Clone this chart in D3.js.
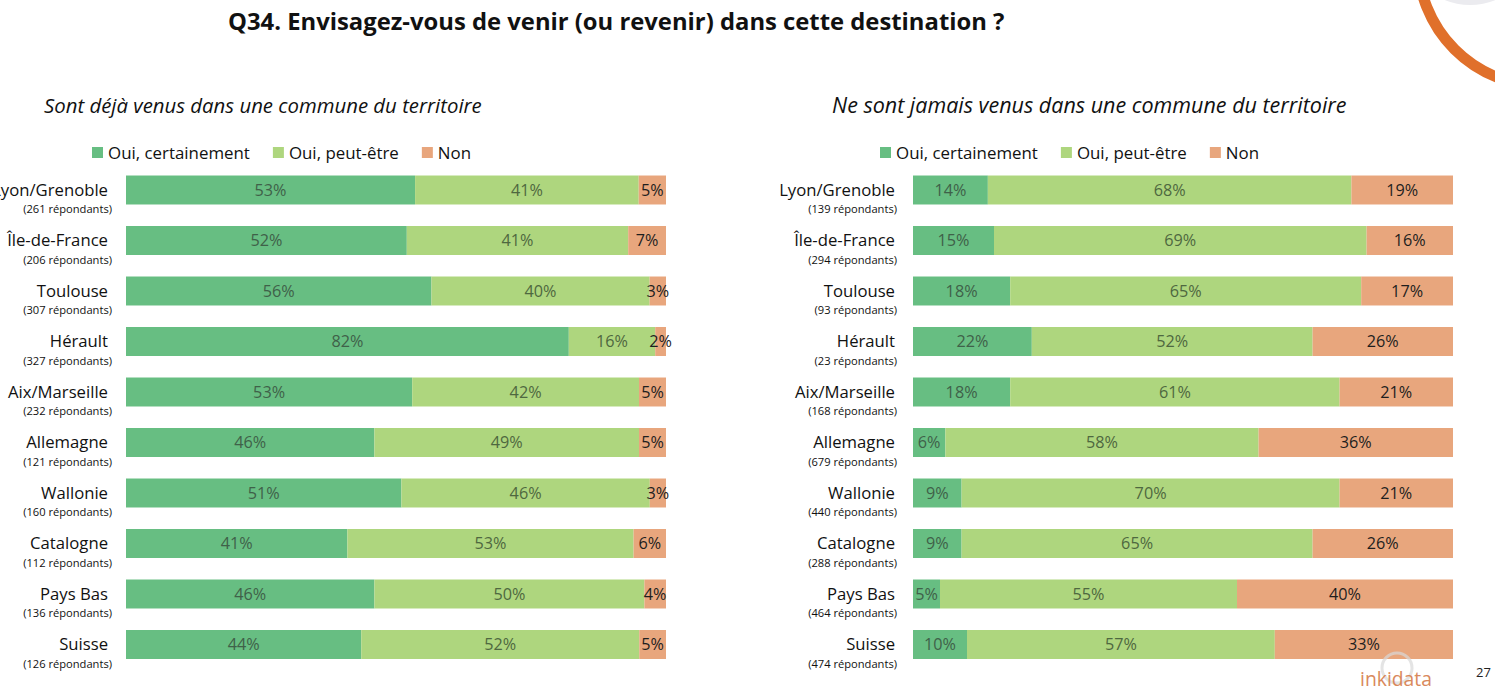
<!DOCTYPE html>
<html><head><meta charset="utf-8">
<script src="https://cdn.jsdelivr.net/npm/d3@7"></script>
<style>
html,body{margin:0;padding:0;background:#fff;overflow:hidden}
svg{display:block}
text{font-family:"Open Sans","Noto Sans",sans-serif}
</style></head>
<body>
<svg id="c" width="1495" height="691"></svg>
<script>
// ---------- DATA ----------
const title = "Q34. Envisagez-vous de venir (ou revenir) dans cette destination ?";
const subtitleLeft = "Sont déjà venus dans une commune du territoire";
const subtitleRight = "Ne sont jamais venus dans une commune du territoire";
const seriesNames = ["Oui, certainement", "Oui, peut-être", "Non"];
const categories = ["Lyon/Grenoble","Île-de-France","Toulouse","Hérault","Aix/Marseille","Allemagne","Wallonie","Catalogne","Pays Bas","Suisse"];
const respondentsLeft  = [261,206,307,327,232,121,160,112,136,126];
const respondentsRight = [139,294,93,23,168,679,440,288,464,474];
const leftCertain  = [53,52,56,82,53,46,51,41,46,44];
const leftPerhaps  = [41,41,40,16,42,49,46,53,50,52];
const leftNo       = [5,7,3,2,5,5,3,6,4,5];
const rightCertain = [14,15,18,22,18,6,9,9,5,10];
const rightPerhaps = [68,69,65,52,61,58,70,65,55,57];
const rightNo      = [19,16,17,26,21,36,21,26,40,33];
const pageNumber = "27";

// ---------- STYLE ----------
const colors = ["#67BE82", "#AED67E", "#E8A67D"];
const labelColors = ["#3f6149", "#4e6840", "#1e1e1e"];
const svg = d3.select("#c");

function fit(sel, target){
  const n = sel.node(); const fs = parseFloat(sel.attr("font-size"));
  const w = n.getComputedTextLength();
  sel.attr("font-size", fs * target / w);
  return fs * target / w;
}
function measure(str, size, weight){
  const t = svg.append("text").attr("font-size", size).attr("font-weight", weight||400).text(str);
  const w = t.node().getComputedTextLength(); t.remove(); return w;
}

// decoration top-right
svg.append("circle").attr("cx",1470).attr("cy",-62).attr("r",67).attr("fill","#ebebef");
svg.append("circle").attr("cx",1543).attr("cy",-39).attr("r",125)
  .attr("fill","none").attr("stroke","#E0702B").attr("stroke-width",11);

// title
const tt = svg.append("text").attr("x",228).attr("y",30).attr("font-size",24)
  .attr("font-weight",700).attr("fill","#111").text(title);
fit(tt, 777);

// size calibration
const catSize = 16 * 116 / measure("Lyon/Grenoble", 16);
const subSize = 10 * 89 / measure("(139 répondants)", 10);
const pctSize = 16 * 32 / measure("53%", 16);
const legSize = 16 * 142 / measure("Oui, certainement", 16);

const y = d3.scaleBand().domain(categories).range([164.75, 669.75])
  .paddingInner(0.426).paddingOuter(0.213);

function panel(cfg){
  const g = svg.append("g");
  const st = g.append("text").attr("x", cfg.subX).attr("y",113).attr("font-size",19)
    .attr("font-style","italic").attr("fill","#111").text(cfg.subtitle);
  fit(st, cfg.subW);

  // legend
  let lx = cfg.legendX;
  seriesNames.forEach((s,i)=>{
    g.append("rect").attr("x",lx).attr("y",147).attr("width",11).attr("height",11).attr("fill",colors[i]);
    const t = g.append("text").attr("x",lx+16).attr("y",159).attr("font-size",legSize).attr("fill","#111").text(s);
    lx += 16 + t.node().getComputedTextLength() + 23;
  });

  const x = d3.scaleLinear().domain([0,1]).range([cfg.x0, cfg.x1]);
  const rows = categories.map((c,i)=>({cat:c, a:cfg.vals[0][i], b:cfg.vals[1][i], c2:cfg.vals[2][i]}));
  const keys = ["a","b","c2"];
  const stacked = d3.stack().keys(keys).offset(d3.stackOffsetExpand)(rows);

  stacked.forEach((layer, li)=>{
    const lg = g.append("g");
    lg.selectAll("rect").data(layer).join("rect")
      .attr("x", d=>x(d[0])).attr("width", d=>x(d[1])-x(d[0]))
      .attr("y", d=>y(d.data.cat)).attr("height", y.bandwidth())
      .attr("fill", colors[li]);
    lg.selectAll("text").data(layer).join("text")
      .attr("x", d=>(x(d[0])+x(d[1]))/2)
      .attr("y", d=>y(d.data.cat)+y.bandwidth()/2)
      .attr("dy","0.35em").attr("text-anchor","middle")
      .attr("font-size", pctSize).attr("fill", labelColors[li])
      .text(d=>d.data[keys[li]]+"%");
  });

  // category labels
  const lab = g.append("g");
  lab.selectAll("text.cat").data(categories).join("text").attr("class","cat")
    .attr("x", cfg.catX).attr("y", d=>y(d)+y.bandwidth()/2).attr("dy","0.35em")
    .attr("text-anchor","end").attr("font-size",catSize).attr("fill","#111").text(d=>d);
  lab.selectAll("text.sub").data(categories).join("text").attr("class","sub")
    .attr("x", cfg.subRight).attr("y", d=>y(d)+y.bandwidth()/2+23)
    .attr("text-anchor","end").attr("font-size",subSize).attr("fill","#111")
    .text((d,i)=>"("+cfg.resp[i]+" répondants)");
}

panel({subtitle:subtitleLeft, subX:44, subW:438, legendX:92, x0:126, x1:666,
  catX:108, subRight:112, vals:[leftCertain,leftPerhaps,leftNo], resp:respondentsLeft});
panel({subtitle:subtitleRight, subX:832, subW:515, legendX:880, x0:913, x1:1453,
  catX:895, subRight:897, vals:[rightCertain,rightPerhaps,rightNo], resp:respondentsRight});

// footer logo & page number
svg.append("circle").attr("cx",1397).attr("cy",668).attr("r",15).attr("fill","none")
  .attr("stroke","#d8d8d8").attr("stroke-width",3).attr("opacity",0.7);
const logo = svg.append("text").attr("x",1360).attr("y",686).attr("font-size",20)
  .attr("fill","#D9895C").text("inkidata");
fit(logo, 72);
svg.append("text").attr("x",1476).attr("y",677).attr("font-size",13).attr("fill","#222").text(pageNumber);
</script>
</body></html>
